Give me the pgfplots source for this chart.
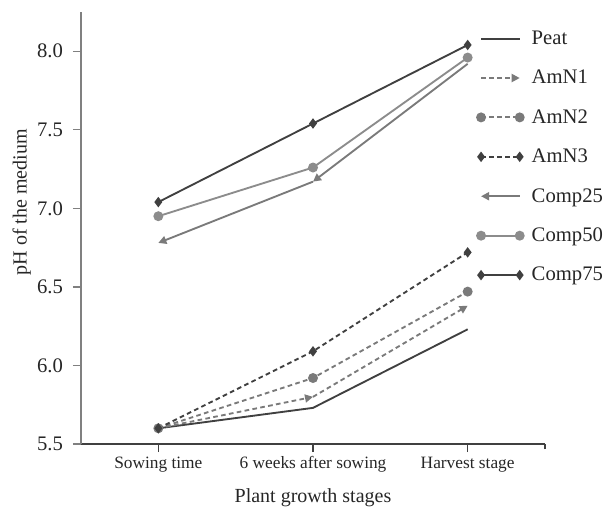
\documentclass[border=0pt]{standalone}
\usepackage{fontspec}
\setmainfont{Liberation Serif}
\usepackage{pgfplots}
\pgfplotsset{compat=1.18}
\usetikzlibrary{arrows.meta}
\definecolor{dk}{HTML}{404040}
\definecolor{md}{HTML}{7A7A7A}
\definecolor{lt}{HTML}{8C8C8C}
\definecolor{ax}{HTML}{808080}
\begin{document}
\begin{tikzpicture}
\begin{axis}[
  at={(0pt,0pt)}, anchor=south west,
  scale only axis, width=348pt, height=324pt,
  xmin=-0.5, xmax=2.5, ymin=5.5, ymax=8.25,
  axis lines*=left,
  x axis line style={dk, line width=1.4pt},
  y axis line style={ax, line width=1.1pt},
  tick align=outside, major tick length=6pt,
  xtick={0,1,2}, xticklabels={Sowing time, 6 weeks after sowing, Harvest stage},
  extra x ticks={2.5}, extra x tick labels={},
  extra x tick style={major tick length=4pt},
  ytick={5.5,6.0,6.5,7.0,7.5,8.0},
  /pgf/number format/fixed, /pgf/number format/fixed zerofill,
  /pgf/number format/precision=1, /pgf/number format/assume math mode=true,
  yticklabel style={font=\fontsize{15.5}{17}\selectfont, text=black!85, xshift=-4pt},
  xticklabel style={font=\fontsize{13}{15}\selectfont, text=black!85},
  x tick style={dk, line width=1pt},
  y tick style={ax, line width=1pt},
  xlabel={Plant growth stages},
  ylabel={pH of the medium},
  label style={font=\fontsize{15}{17}\selectfont, text=black!85},
  xlabel style={at={(axis description cs:0.5,-0.125)}, anchor=center},
  ylabel style={at={(axis description cs:-0.128,0.56)}, anchor=center},
  legend style={draw=none, fill=none, at={(axis description cs:0.853,0.963)}, anchor=north west,
    font=\fontsize{15.5}{17}\selectfont, nodes={font=\fontsize{15.5}{17}\selectfont, text=black!85},
    row sep=13.8pt, column sep=4pt, inner sep=0pt},
  legend cell align=left,
  legend image code/.code={\draw[#1] plot coordinates {(0pt,0pt) (29pt,0pt)};},
  clip=false,
]
% Peat
\addplot[dk, line width=1.4pt, no marks] coordinates {(0,5.60) (1,5.73) (2,6.23)};
\addlegendentry{Peat}
% AmN1 (arrow at the end of each segment)
\addplot[md, line width=1.4pt, dash pattern=on 3.5pt off 2.5pt, no marks, -{Triangle[length=6pt,width=6pt]}] coordinates {(0,5.60) (1,5.80)};
\addlegendentry{AmN1}
\addplot[md, line width=1.4pt, dash pattern=on 3.5pt off 2.5pt, no marks, -{Triangle[length=6pt,width=6pt]}, forget plot] coordinates {(1,5.80) (2,6.38)};
% AmN2
\addplot[md, line width=1.4pt, dash pattern=on 3.5pt off 2.5pt, mark=*, mark size=3pt, mark options={solid, fill=md, draw=md}] coordinates {(0,5.60) (1,5.92) (2,6.47)};
\addlegendentry{AmN2}
% AmN3
\addplot[dk, line width=1.4pt, dash pattern=on 3.5pt off 2.5pt, mark=diamond*, mark size=2.8pt, mark options={solid, fill=dk, draw=dk}] coordinates {(0,5.60) (1,6.09) (2,6.72)};
\addlegendentry{AmN3}
% Comp25 (arrow at the start of each segment)
\addplot[md, line width=1.4pt, no marks, {Triangle[length=6pt,width=6pt]}-] coordinates {(0,6.78) (1,7.17)};
\addlegendentry{Comp25}
\addplot[md, line width=1.4pt, no marks, {Triangle[length=6pt,width=6pt]}-, forget plot] coordinates {(1,7.17) (2,7.92)};
% Comp50
\addplot[lt, line width=1.4pt, mark=*, mark size=3pt, mark options={fill=lt, draw=lt}] coordinates {(0,6.95) (1,7.26) (2,7.96)};
\addlegendentry{Comp50}
% Comp75
\addplot[dk, line width=1.4pt, mark=diamond*, mark size=2.8pt, mark options={fill=dk, draw=dk}] coordinates {(0,7.04) (1,7.54) (2,8.04)};
\addlegendentry{Comp75}
\end{axis}
\pgfresetboundingbox
\path[use as bounding box] (-60.75pt,-49.5pt) rectangle (393.75pt,333pt);
\end{tikzpicture}
\end{document}
